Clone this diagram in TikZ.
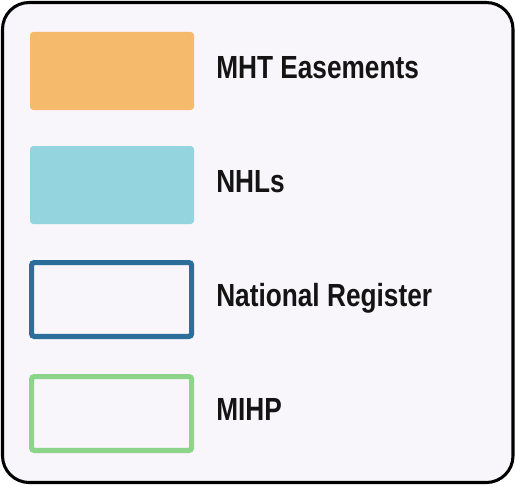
\documentclass[tikz,border=0pt]{standalone}
\usepackage{fontspec}
\setmainfont{Liberation Sans}[FakeStretch=0.82]
\definecolor{bgc}{HTML}{F8F6FB}
\definecolor{orangec}{HTML}{F6BA6C}
\definecolor{cyanc}{HTML}{94D4DE}
\definecolor{bluec}{HTML}{2B6E99}
\definecolor{greenc}{HTML}{8CD48A}
\begin{document}
\begin{tikzpicture}[x=0.75pt,y=-0.75pt,
  fillsw/.style={rounded corners=2.5pt,draw=none},
  linesw/.style={rounded corners=2pt,line width=3.9pt},
  lab/.style={anchor=base west,inner sep=0pt,font=\bfseries\fontsize{24}{28}\selectfont,text=black!92}]
\useasboundingbox (0,0) rectangle (516,485);
\fill[white] (0,0) rectangle (516,485);
\draw[line width=2.3pt,fill=bgc,rounded corners=20pt] (2.5,2.5) rectangle (513,482.5);
\fill[orangec,fillsw] (30,32) rectangle (194,110);
\fill[cyanc,fillsw] (30,146) rectangle (194,224);
\draw[bluec,linesw] (31.6,262.6) rectangle (191.6,336.4);
\draw[greenc,linesw] (31.6,376.6) rectangle (191.6,450.4);
\node[lab] (t1) at (216,78) {MHT Easements};
\node[lab] (t2) at (216,192) {NHLs};
\node[lab] (t3) at (216,306.5) {National Register};
\node[lab] (t4) at (216,420.5) {MIHP};
\end{tikzpicture}
\end{document}
